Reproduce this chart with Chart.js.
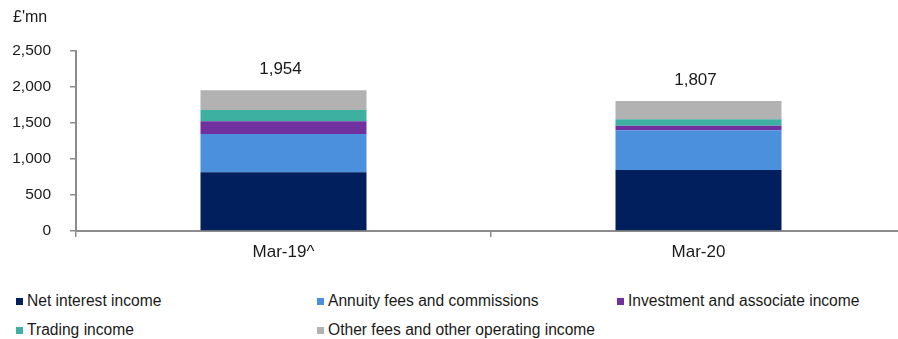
<!DOCTYPE html>
<html>
<head>
<meta charset="utf-8">
<script src="https://cdn.jsdelivr.net/npm/chart.js@4/dist/chart.umd.min.js"></script>
<style>
  html, body { margin: 0; padding: 0; background: #fff; overflow: hidden; }
  body { width: 898px; height: 339px; position: relative; font-family: "Liberation Sans", Arial, sans-serif; color: #1a1a1a; }
  #wrap { position: absolute; left: 0; top: 0; width: 910px; height: 285px; }
  #unit { position: absolute; left: 13px; top: 8px; font-size: 16px; }
  #legend { position: absolute; left: 16px; top: 291px; display: grid; grid-template-columns: 301px 300px 300px; row-gap: 9px; font-size: 15.6px; }
  .item { display: flex; align-items: center; height: 20px; white-space: nowrap; }
  .sw { width: 7px; height: 7px; margin-right: 4px; flex: none; }
</style>
</head>
<body>
<div id="wrap"><canvas id="c"></canvas></div>
<div id="unit">£'mn</div>
<div id="legend"></div>
<script>
// Period labels on the category axis
const categories = ["Mar-19^", "Mar-20"];

// Income components, £ million
const netInterestIncome = [815, 847];
const annuityFees = [532, 552];
const investmentIncome = [177, 64];
const tradingIncome = [157, 88];
const otherFees = [273, 256];

const seriesNames = [
  "Net interest income",
  "Annuity fees and commissions",
  "Investment and associate income",
  "Trading income",
  "Other fees and other operating income"
];
const seriesColors = ["#001F5C", "#4A90DC", "#7030A0", "#3EB0A2", "#B2B2B2"];
const seriesValues = [netInterestIncome, annuityFees, investmentIncome, tradingIncome, otherFees];

const yTicks = [0, 500, 1000, 1500, 2000, 2500];

const fmt = v => v.toLocaleString("en-US");
const axisGrey = "#8C8C8C";
const textColor = "#1a1a1a";
const fontFamily = "'Liberation Sans', Arial, sans-serif";

// Stack totals written above each column
const totalsPlugin = {
  id: "totals",
  afterDatasetsDraw(chart) {
    const { ctx, scales } = chart;
    ctx.save();
    ctx.font = "17px " + fontFamily;
    ctx.fillStyle = textColor;
    ctx.textAlign = "center";
    ctx.textBaseline = "middle";
    categories.forEach((cat, i) => {
      const total = seriesValues.reduce((s, arr) => s + arr[i], 0);
      const x = scales.x.getPixelForValue(i);
      const y = scales.y.getPixelForValue(total) - 21;
      ctx.fillText(fmt(total), x - 3, y);
    });
    ctx.restore();
  }
};

new Chart(document.getElementById("c"), {
  type: "bar",
  data: {
    labels: categories,
    datasets: seriesNames.map((name, k) => ({
      label: name,
      data: seriesValues[k],
      backgroundColor: seriesColors[k],
      borderWidth: 0,
      barPercentage: 1,
      categoryPercentage: 0.4
    }))
  },
  options: {
    responsive: true,
    maintainAspectRatio: false,
    animation: false,
    layout: { padding: { top: 51, right: 4, left: 0, bottom: 0 } },
    plugins: { legend: { display: false }, tooltip: { enabled: false } },
    scales: {
      x: {
        stacked: true,
        afterFit(scale) { scale.height = 54; },
        border: { display: true, color: axisGrey, width: 2 },
        grid: { display: true, drawOnChartArea: false, drawTicks: true, tickLength: 6, color: axisGrey, lineWidth: 1.5, offset: true },
        ticks: { color: textColor, font: { family: fontFamily, size: 17 }, padding: 5, maxRotation: 0 }
      },
      y: {
        stacked: true,
        min: 0,
        max: 2500,
        afterFit(scale) { scale.width = 76; },
        afterBuildTicks(scale) { scale.ticks = yTicks.map(v => ({ value: v })); },
        border: { display: true, color: axisGrey, width: 2 },
        grid: { display: true, drawOnChartArea: false, drawTicks: true, tickLength: 6, color: axisGrey, lineWidth: 1.5 },
        ticks: { color: textColor, font: { family: fontFamily, size: 15.5 }, padding: 19, callback: v => fmt(v) }
      }
    }
  },
  plugins: [totalsPlugin]
});

// Legend laid out in three columns below the plot
const legend = document.getElementById("legend");
seriesNames.forEach((name, k) => {
  const item = document.createElement("div");
  item.className = "item";
  const sw = document.createElement("span");
  sw.className = "sw";
  sw.style.background = seriesColors[k];
  const tx = document.createElement("span");
  tx.textContent = name;
  item.appendChild(sw);
  item.appendChild(tx);
  legend.appendChild(item);
});
</script>
</body>
</html>
